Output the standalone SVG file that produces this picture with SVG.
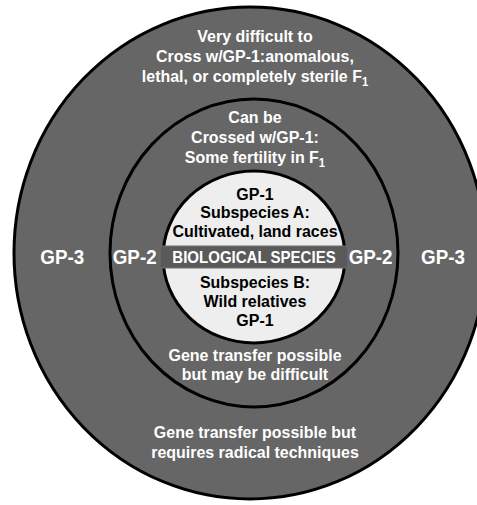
<svg xmlns="http://www.w3.org/2000/svg" width="477" height="505" viewBox="0 0 477 505">
<style>
.ring{fill:#666666;stroke:#000;stroke-width:3}
.core{fill:#eeeeee;stroke:#000;stroke-width:3}
text{font-family:"Liberation Sans",Arial,sans-serif;font-weight:bold;text-anchor:middle}
.w{fill:#fff;font-size:17px}
.k{fill:#000;font-size:17px}
.gp{fill:#fff;font-size:20px}
.band{fill:#fff;font-size:16px}
.sub{font-size:12px}
</style>
<rect width="477" height="505" fill="#fff"/>
<g id="gp3">
<ellipse class="ring" cx="250" cy="253" rx="236" ry="246"/>
<g transform="translate(255,0) scale(0.94,1) translate(-255,0)">
<text class="w" x="255" y="42">Very difficult to</text>
<text class="w" x="255" y="62">Cross w/GP-1:anomalous,</text>
<text class="w" x="255" y="82">lethal, or completely sterile F<tspan class="sub" dy="4">1</tspan></text>
<text class="gp" x="50" y="264">GP-3</text>
<text class="gp" x="455" y="264">GP-3</text>
<text class="w" x="255" y="438">Gene transfer possible but</text>
<text class="w" x="255" y="458">requires radical techniques</text>
</g>
</g>
<g id="gp2">
<ellipse class="ring" cx="254" cy="253" rx="144" ry="154"/>
<g transform="translate(255,0) scale(0.94,1) translate(-255,0)">
<text class="w" x="255" y="123">Can be</text>
<text class="w" x="255" y="143">Crossed w/GP-1:</text>
<text class="w" x="255" y="163">Some fertility in F<tspan class="sub" dy="4">1</tspan></text>
<text class="gp" x="127" y="264">GP-2</text>
<text class="gp" x="378" y="264">GP-2</text>
<text class="w" x="255" y="361">Gene transfer possible</text>
<text class="w" x="255" y="380">but may be difficult</text>
</g>
</g>
<g id="gp1">
<ellipse class="core" cx="254" cy="257" rx="91" ry="86"/>
<g transform="translate(255,0) scale(0.94,1) translate(-255,0)">
<text class="k" x="255" y="200">GP-1</text>
<text class="k" x="255" y="218">Subspecies A:</text>
<text class="k" x="255" y="237">Cultivated, land races</text>
<text class="k" x="255" y="288">Subspecies B:</text>
<text class="k" x="255" y="307">Wild relatives</text>
<text class="k" x="255" y="326">GP-1</text>
</g>
</g>
<g id="species">
<rect x="160" y="246" width="188" height="22" fill="#5a5a5a" stroke="#6e6e6e" stroke-width="1"/>
<text class="band" x="254" y="263" transform="translate(254,0) scale(0.94,1) translate(-254,0)">BIOLOGICAL SPECIES</text>
</g>
<g id="connectors"></g>
</svg>
